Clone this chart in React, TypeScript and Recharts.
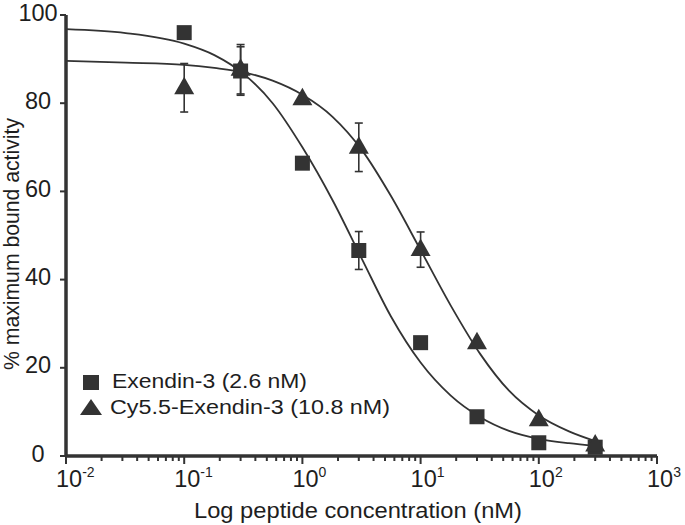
import { ComposedChart, ErrorBar, Label, Line, Scatter, XAxis, YAxis } from 'recharts'

const concentrations = [0.1, 0.3, 1, 3, 10, 30, 100, 300]
const exendinValues = [96, 87.3, 66.4, 46.6, 25.7, 8.9, 3, 2]
const exendinErrors = [0, 5.5, 0, 4.3, 0, 0, 0, 0]
const cy55Values = [83.5, 87.7, 81, 70, 46.8, 25.7, 8.2, 2.5]
const cy55Errors = [5.5, 5.6, 0, 5.5, 4, 0, 0, 0]

// fitted curves
const fitConc = [0.01, 0.032, 0.1, 0.18, 0.32, 0.56, 1, 1.8, 3.2, 5.6, 10, 18, 32, 56, 100, 180, 300]
const exendinFit = [96.8, 95.9, 93.5, 90.9, 86.6, 80, 70, 58, 44.6, 31.7, 21.2, 13.7, 8.8, 5.7, 3.9, 2.9, 2.3]
const cy55Fit = [89.6, 89.2, 88.7, 88, 87, 85.1, 81.9, 76.9, 69.3, 59, 46.7, 34.1, 23.1, 14.8, 9.2, 5.6, 3.4]

const majorTicks = [0.01, 0.1, 1, 10, 100, 1000]
const minorMultipliers = [2, 3, 4, 5, 6, 7, 8, 9]
const yTicks = [0, 20, 40, 60, 80, 100]

const xTicks = [
  ...majorTicks,
  ...majorTicks.slice(0, -1).flatMap((d) => minorMultipliers.map((m) => d * m)),
].sort((a, b) => a - b)

const INK = '#333'
const TEXT = '#1e1e1e'
const FONT = '"Liberation Sans", Arial, sans-serif'

const exendinPts = concentrations.map((x, i) => ({ x, y: exendinValues[i], err: exendinErrors[i] }))
const cy55Pts = concentrations.map((x, i) => ({ x, y: cy55Values[i], err: cy55Errors[i] }))
const exendinLine = fitConc.map((x, i) => ({ x, y: exendinFit[i] }))
const cy55Line = fitConc.map((x, i) => ({ x, y: cy55Fit[i] }))

function SquareDot({ cx, cy }: any) {
  if (cx == null || cy == null) return null
  return <rect x={cx - 7.5} y={cy - 7.5} width={15} height={15} fill={INK} />
}

function TriangleDot({ cx, cy }: any) {
  if (cx == null || cy == null) return null
  return <polygon points={`${cx - 10},${cy + 6.5} ${cx + 10},${cy + 6.5} ${cx},${cy - 11}`} fill={INK} />
}

function XTick({ x, y, payload }: any) {
  const v = payload.value
  const major = majorTicks.includes(v)
  const exp = Math.round(Math.log10(v))
  return (
    <g>
      <line x1={x} x2={x} y1={y} y2={y + (major ? 8 : 5)} stroke={INK} strokeWidth={2} />
      {major && (
        <text x={x - 10} y={y + 31} fill={TEXT} fontFamily={FONT} fontSize={23.5}>
          10
          <tspan dy={-10} fontSize={14}>
            {exp}
          </tspan>
        </text>
      )}
    </g>
  )
}

function YTick({ x, y, payload }: any) {
  return (
    <g>
      <line x1={x - 6} x2={x} y1={y} y2={y} stroke={INK} strokeWidth={2} />
      <text x={x - 28} y={y + 5.5} textAnchor="middle" fill={TEXT} fontFamily={FONT} fontSize={23.5}>
        {payload.value}
      </text>
    </g>
  )
}

export default function App() {
  return (
    <div style={{ position: 'absolute', left: 0, top: 0, width: 685, height: 525, background: '#fff' }}>
      <ComposedChart width={685} height={525} margin={{ top: 15, right: 28, bottom: 0, left: 0 }}>
        <XAxis
          dataKey="x"
          type="number"
          scale="log"
          domain={[0.01, 1000]}
          allowDataOverflow
          ticks={xTicks}
          interval={0}
          height={69}
          tickSize={0}
          tickMargin={0}
          tickLine={false}
          tick={<XTick />}
          axisLine={{ stroke: INK, strokeWidth: 3.5 }}
        >
          <Label
            content={() => (
              <text x={194} y={518} fill={TEXT} fontFamily={FONT} fontSize={22} textLength={328} lengthAdjust="spacingAndGlyphs">
                Log peptide concentration (nM)
              </text>
            )}
          />
        </XAxis>
        <YAxis
          type="number"
          domain={[0, 100]}
          ticks={yTicks}
          interval={0}
          width={66}
          tickSize={0}
          tickMargin={0}
          tickLine={false}
          tick={<YTick />}
          axisLine={{ stroke: INK, strokeWidth: 3.5 }}
        >
          <Label
            content={() => (
              <text
                x={19}
                y={244}
                transform="rotate(-90, 19, 244)"
                textAnchor="middle"
                fill={TEXT}
                fontFamily={FONT}
                fontSize={22}
                textLength={252}
                lengthAdjust="spacingAndGlyphs"
              >
                % maximum bound activity
              </text>
            )}
          />
        </YAxis>
        <Line data={exendinLine} dataKey="y" type="monotone" dot={false} stroke={INK} strokeWidth={1.8} isAnimationActive={false} />
        <Line data={cy55Line} dataKey="y" type="monotone" dot={false} stroke={INK} strokeWidth={1.8} isAnimationActive={false} />
        <Scatter data={exendinPts} dataKey="y" shape={<SquareDot />} isAnimationActive={false}>
          <ErrorBar dataKey="err" direction="y" width={4} stroke={INK} strokeWidth={1.6} />
        </Scatter>
        <Scatter data={cy55Pts} dataKey="y" shape={<TriangleDot />} isAnimationActive={false}>
          <ErrorBar dataKey="err" direction="y" width={4} stroke={INK} strokeWidth={1.6} />
        </Scatter>
      </ComposedChart>
      <svg width={685} height={525} style={{ position: 'absolute', left: 0, top: 0, pointerEvents: 'none' }}>
        <rect x={83} y={375} width={16} height={15} fill={INK} />
        <text x={112} y={388} fill={TEXT} fontFamily={FONT} fontSize={20} textLength={195} lengthAdjust="spacingAndGlyphs">
          Exendin-3 (2.6 nM)
        </text>
        <polygon points="80,415 102,415 91,399" fill={INK} />
        <text x={110} y={414} fill={TEXT} fontFamily={FONT} fontSize={20} textLength={280} lengthAdjust="spacingAndGlyphs">
          Cy5.5-Exendin-3 (10.8 nM)
        </text>
      </svg>
    </div>
  )
}
